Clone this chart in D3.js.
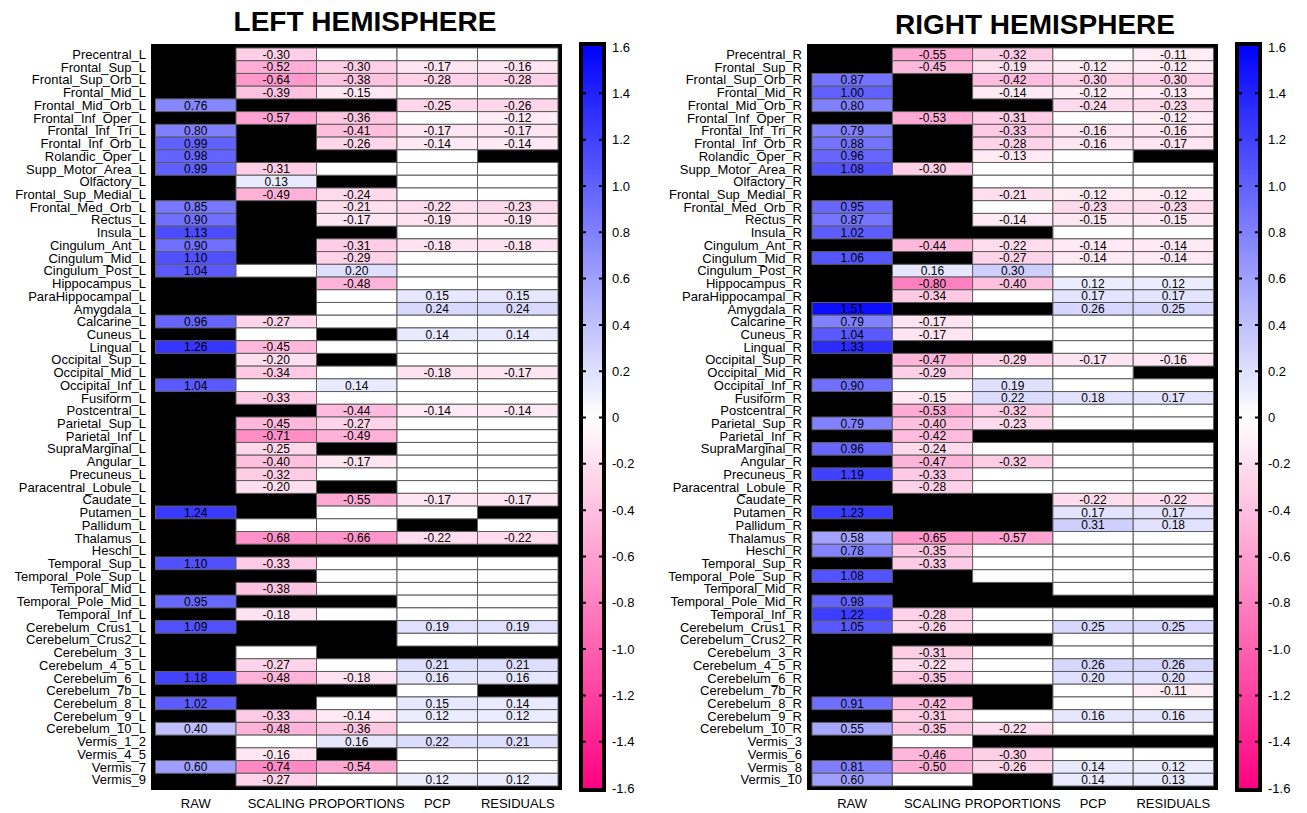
<!DOCTYPE html>
<html>
<head>
<meta charset="utf-8">
<script src="https://cdn.jsdelivr.net/npm/d3@7"></script>
<style>
  html, body { margin: 0; padding: 0; background: #fff; }
  svg { display: block; font-family: "Liberation Sans", Arial, Helvetica, sans-serif; }
</style>
</head>
<body>
<svg id="chart" width="1307" height="813"></svg>
<script>
// Effect-size heatmaps per AAL region and normalisation method.
// null = not available (black), 0 = not significant (white, unlabeled).

const methods = ["RAW", "SCALING", "PROPORTIONS", "PCP", "RESIDUALS"];

const leftRegions = [
  "Precentral_L", "Frontal_Sup_L", "Frontal_Sup_Orb_L", "Frontal_Mid_L", "Frontal_Mid_Orb_L",
  "Frontal_Inf_Oper_L", "Frontal_Inf_Tri_L", "Frontal_Inf_Orb_L", "Rolandic_Oper_L", "Supp_Motor_Area_L",
  "Olfactory_L", "Frontal_Sup_Medial_L", "Frontal_Med_Orb_L", "Rectus_L", "Insula_L",
  "Cingulum_Ant_L", "Cingulum_Mid_L", "Cingulum_Post_L", "Hippocampus_L", "ParaHippocampal_L",
  "Amygdala_L", "Calcarine_L", "Cuneus_L", "Lingual_L", "Occipital_Sup_L",
  "Occipital_Mid_L", "Occipital_Inf_L", "Fusiform_L", "Postcentral_L", "Parietal_Sup_L",
  "Parietal_Inf_L", "SupraMarginal_L", "Angular_L", "Precuneus_L", "Paracentral_Lobule_L",
  "Caudate_L", "Putamen_L", "Pallidum_L", "Thalamus_L", "Heschl_L",
  "Temporal_Sup_L", "Temporal_Pole_Sup_L", "Temporal_Mid_L", "Temporal_Pole_Mid_L", "Temporal_Inf_L",
  "Cerebelum_Crus1_L", "Cerebelum_Crus2_L", "Cerebelum_3_L", "Cerebelum_4_5_L", "Cerebelum_6_L",
  "Cerebelum_7b_L", "Cerebelum_8_L", "Cerebelum_9_L", "Cerebelum_10_L", "Vermis_1_2",
  "Vermis_4_5", "Vermis_7", "Vermis_9"
];

const leftRaw = [
  null, null, null, null, 0.76, null, 0.80, 0.99, 0.98, 0.99,
  null, null, 0.85, 0.90, 1.13, 0.90, 1.10, 1.04, null, null,
  null, 0.96, null, 1.26, null, null, 1.04, null, null, null,
  null, null, null, null, null, null, 1.24, null, null, null,
  1.10, null, null, 0.95, null, 1.09, null, null, null, 1.18,
  null, 1.02, null, 0.40, null, null, 0.60, null
];
const leftScaling = [
  -0.30, -0.52, -0.64, -0.39, null, -0.57, null, null, null, -0.31,
  0.13, -0.49, null, null, null, null, null, 0, null, null,
  null, -0.27, 0, -0.45, -0.20, -0.34, 0, -0.33, null, -0.45,
  -0.71, -0.25, -0.40, -0.32, -0.20, null, null, 0, -0.68, null,
  -0.33, null, -0.38, null, -0.18, null, null, 0, -0.27, -0.48,
  null, null, -0.33, -0.48, 0, -0.16, -0.74, -0.27
];
const leftProportions = [
  0, -0.30, -0.38, -0.15, null, -0.36, -0.41, -0.26, null, 0,
  null, -0.24, -0.21, -0.17, null, -0.31, -0.29, 0.20, -0.48, 0,
  0, 0, null, 0, null, 0, 0.14, 0, -0.44, -0.27,
  -0.49, null, -0.17, 0, null, -0.55, 0, 0, -0.66, null,
  0, 0, 0, null, 0, null, null, null, 0, -0.18,
  null, 0, -0.14, -0.36, 0.16, null, -0.54, 0
];
const leftPcp = [
  0, -0.17, -0.28, 0, -0.25, 0, -0.17, -0.14, 0, 0,
  0, 0, -0.22, -0.19, 0, -0.18, 0, 0, 0, 0.15,
  0.24, 0, 0.14, 0, 0, -0.18, 0, 0, -0.14, 0,
  0, 0, 0, 0, 0, -0.17, 0, null, -0.22, null,
  0, 0, 0, 0, 0, 0.19, 0, null, 0.21, 0.16,
  0, 0.15, 0.12, 0, 0.22, 0, 0, 0.12
];
const leftResiduals = [
  0, -0.16, -0.28, 0, -0.26, -0.12, -0.17, -0.14, null, 0,
  0, 0, -0.23, -0.19, 0, -0.18, 0, 0, 0, 0.15,
  0.24, 0, 0.14, 0, 0, -0.17, 0, 0, -0.14, 0,
  0, 0, 0, 0, 0, -0.17, null, 0, -0.22, null,
  0, 0, 0, 0, 0, 0.19, 0, null, 0.21, 0.16,
  null, 0.14, 0.12, 0, 0.21, 0, 0, 0.12
];

const rightRegions = [
  "Precentral_R", "Frontal_Sup_R", "Frontal_Sup_Orb_R", "Frontal_Mid_R", "Frontal_Mid_Orb_R",
  "Frontal_Inf_Oper_R", "Frontal_Inf_Tri_R", "Frontal_Inf_Orb_R", "Rolandic_Oper_R", "Supp_Motor_Area_R",
  "Olfactory_R", "Frontal_Sup_Medial_R", "Frontal_Med_Orb_R", "Rectus_R", "Insula_R",
  "Cingulum_Ant_R", "Cingulum_Mid_R", "Cingulum_Post_R", "Hippocampus_R", "ParaHippocampal_R",
  "Amygdala_R", "Calcarine_R", "Cuneus_R", "Lingual_R", "Occipital_Sup_R",
  "Occipital_Mid_R", "Occipital_Inf_R", "Fusiform_R", "Postcentral_R", "Parietal_Sup_R",
  "Parietal_Inf_R", "SupraMarginal_R", "Angular_R", "Precuneus_R", "Paracentral_Lobule_R",
  "Caudate_R", "Putamen_R", "Pallidum_R", "Thalamus_R", "Heschl_R",
  "Temporal_Sup_R", "Temporal_Pole_Sup_R", "Temporal_Mid_R", "Temporal_Pole_Mid_R", "Temporal_Inf_R",
  "Cerebelum_Crus1_R", "Cerebelum_Crus2_R", "Cerebelum_3_R", "Cerebelum_4_5_R", "Cerebelum_6_R",
  "Cerebelum_7b_R", "Cerebelum_8_R", "Cerebelum_9_R", "Cerebelum_10_R", "Vermis_3",
  "Vermis_6", "Vermis_8", "Vermis_10"
];

const rightRaw = [
  null, null, 0.87, 1.00, 0.80, null, 0.79, 0.88, 0.96, 1.08,
  null, null, 0.95, 0.87, 1.02, null, 1.06, null, null, null,
  1.51, 0.79, 1.04, 1.33, null, null, 0.90, null, null, 0.79,
  null, 0.96, null, 1.19, null, null, 1.23, null, 0.58, 0.78,
  null, 1.08, null, 0.98, 1.22, 1.05, null, null, null, null,
  null, 0.91, null, 0.55, null, null, 0.81, 0.60
];
const rightScaling = [
  -0.55, -0.45, null, null, null, -0.53, null, null, null, -0.30,
  null, null, null, null, null, -0.44, null, 0.16, -0.80, -0.34,
  null, -0.17, -0.17, null, -0.47, -0.29, 0, -0.15, -0.53, -0.40,
  -0.42, -0.24, -0.47, -0.33, -0.28, null, null, null, -0.65, -0.35,
  -0.33, null, null, null, -0.28, -0.26, null, -0.31, -0.22, -0.35,
  null, -0.42, -0.31, -0.35, 0, -0.46, -0.50, 0
];
const rightProportions = [
  -0.32, -0.19, -0.42, -0.14, null, -0.31, -0.33, -0.28, -0.13, 0,
  0, -0.21, 0, -0.14, null, -0.22, -0.27, 0.30, -0.40, 0,
  null, 0, 0, null, -0.29, 0, 0.19, 0.22, -0.32, -0.23,
  null, 0, -0.32, 0, 0, null, null, null, -0.57, 0,
  0, 0, null, null, 0, 0, null, 0, 0, 0,
  null, null, 0, -0.22, null, -0.30, -0.26, null
];
const rightPcp = [
  0, -0.12, -0.30, -0.12, -0.24, 0, -0.16, -0.16, 0, 0,
  0, -0.12, -0.23, -0.15, 0, -0.14, -0.14, 0, 0.12, 0.17,
  0.26, 0, 0, 0, -0.17, 0, 0, 0.18, 0, 0,
  null, 0, 0, 0, 0, -0.22, 0.17, 0.31, 0, 0,
  0, 0, 0, null, 0, 0.25, 0, 0, 0.26, 0.20,
  0, 0, 0.16, 0, null, 0, 0.14, 0.14
];
const rightResiduals = [
  -0.11, -0.12, -0.30, -0.13, -0.23, -0.12, -0.16, -0.17, null, 0,
  0, -0.12, -0.23, -0.15, 0, -0.14, -0.14, 0, 0.12, 0.17,
  0.25, 0, 0, 0, -0.16, null, 0, 0.17, 0, 0,
  null, 0, 0, 0, 0, -0.22, 0.17, 0.18, 0, 0,
  0, 0, 0, null, 0, 0.25, 0, 0, 0.26, 0.20,
  -0.11, 0, 0.16, 0, null, 0, 0.12, 0.13
];

const colorbarTicks = [1.6, 1.4, 1.2, 1.0, 0.8, 0.6, 0.4, 0.2, 0, -0.2, -0.4, -0.6, -0.8, -1.0, -1.2, -1.4, -1.6];

// ---------------------------------------------------------------------------

const svg = d3.select("#chart");
const defs = svg.append("defs");

const color = d3.scaleLinear()
  .domain([-1.6, 0, 1.6])
  .range(["#ff0080", "#ffffff", "#0000ff"])
  .clamp(true);

const hyphen = s => s.replace("\u2212", "-");
const fmtCell = d3.format(".2f");
const fmtBar = d3.format(".1f");

const panels = [
  {
    title: "LEFT HEMISPHERE", titleX: 365, titleY: 31,
    regions: leftRegions,
    columns: [leftRaw, leftScaling, leftProportions, leftPcp, leftResiduals],
    frame: [151, 562], grid: [155.5, 558], labelX: 146,
    bar: [579, 606], id: "gradL"
  },
  {
    title: "RIGHT HEMISPHERE", titleX: 1035, titleY: 34,
    regions: rightRegions,
    columns: [rightRaw, rightScaling, rightProportions, rightPcp, rightResiduals],
    frame: [807, 1218], grid: [812, 1213.5], labelX: 802,
    bar: [1235, 1262], id: "gradR"
  }
];

const frameY = [44, 790];
const gridY = [48, 786];

panels.forEach(p => {
  const g = svg.append("g");

  const y = d3.scaleBand().domain(p.regions).range(gridY).padding(0);
  const x = d3.scaleBand().domain(methods).range(p.grid).padding(0);

  // title
  g.append("text")
    .attr("x", p.titleX).attr("y", p.titleY)
    .attr("text-anchor", "middle")
    .attr("font-size", 28).attr("font-weight", "bold")
    .attr("fill", "#000")
    .text(p.title);

  // black backdrop (missing values show through)
  g.append("rect")
    .attr("x", p.frame[0]).attr("y", frameY[0])
    .attr("width", p.frame[1] - p.frame[0])
    .attr("height", frameY[1] - frameY[0])
    .attr("fill", "#000");

  const cells = [];
  p.columns.forEach((col, ci) => {
    col.forEach((v, ri) => {
      cells.push({ region: p.regions[ri], method: methods[ci], value: v });
    });
  });
  const present = cells.filter(d => d.value !== null);

  g.append("g").selectAll("rect")
    .data(present)
    .join("rect")
    .attr("x", d => x(d.method))
    .attr("y", d => y(d.region))
    .attr("width", x.bandwidth())
    .attr("height", y.bandwidth())
    .attr("fill", d => color(d.value))
    .attr("stroke", "#5e5e5e")
    .attr("stroke-width", 1);

  g.append("g").selectAll("text")
    .data(present.filter(d => d.value !== 0))
    .join("text")
    .attr("x", d => x(d.method) + x.bandwidth() / 2)
    .attr("y", d => y(d.region) + y.bandwidth() / 2)
    .attr("dy", "0.36em")
    .attr("text-anchor", "middle")
    .attr("font-size", 12)
    .attr("fill", "#000")
    .text(d => hyphen(fmtCell(d.value)));

  // row labels
  g.append("g").selectAll("text")
    .data(p.regions)
    .join("text")
    .attr("x", p.labelX)
    .attr("y", d => y(d) + y.bandwidth() / 2)
    .attr("dy", "0.36em")
    .attr("text-anchor", "end")
    .attr("font-size", 13)
    .attr("fill", "#000")
    .text(d => d);

  // column labels
  g.append("g").selectAll("text")
    .data(methods)
    .join("text")
    .attr("x", d => x(d) + x.bandwidth() / 2)
    .attr("y", 808)
    .attr("text-anchor", "middle")
    .attr("font-size", 13)
    .attr("fill", "#000")
    .text(d => d);

  // colorbar
  const cb = d3.scaleLinear().domain([-1.6, 1.6]).range([788, 47]);
  const grad = defs.append("linearGradient")
    .attr("id", p.id)
    .attr("x1", 0).attr("y1", 1).attr("x2", 0).attr("y2", 0);
  d3.range(0, 1.0001, 0.05).forEach(t => {
    grad.append("stop")
      .attr("offset", t)
      .attr("stop-color", color(-1.6 + 3.2 * t));
  });

  const bx0 = p.bar[0], bx1 = p.bar[1];
  g.append("rect")
    .attr("x", bx0 + 2).attr("y", 44)
    .attr("width", bx1 - bx0 - 4).attr("height", 746)
    .attr("fill", `url(#${p.id})`)
    .attr("stroke", "#000")
    .attr("stroke-width", 4);

  // inner tick marks on both edges
  const inner = colorbarTicks.filter(t => Math.abs(t) < 1.55);
  g.append("g").selectAll("path")
    .data(inner)
    .join("path")
    .attr("d", t => {
      const yy = cb(t);
      return `M${bx0 + 4},${yy}h3M${bx1 - 7},${yy}h3`;
    })
    .attr("stroke", "#000")
    .attr("stroke-width", 2);

  const axis = d3.axisRight(cb)
    .tickValues(colorbarTicks)
    .tickSize(0)
    .tickPadding(6)
    .tickFormat(t => Math.abs(t) < 1e-9 ? "0" : hyphen(fmtBar(t)));

  const ag = g.append("g")
    .attr("transform", `translate(${bx1},0)`)
    .call(axis);
  ag.select(".domain").remove();
  ag.selectAll("text")
    .attr("font-size", 13)
    .attr("font-family", "'Liberation Sans', Arial, sans-serif")
    .attr("fill", "#000");
});
</script>
</body>
</html>
